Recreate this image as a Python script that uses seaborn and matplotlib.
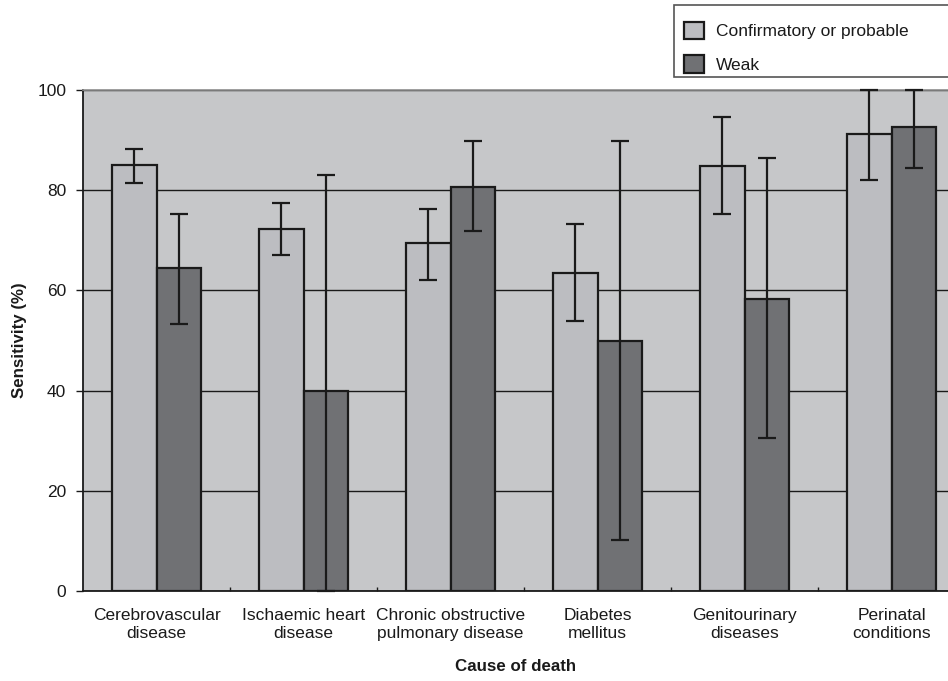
import matplotlib
matplotlib.use('Agg')
import matplotlib.pyplot as plt
import numpy as np
import pandas as pd
import seaborn as sns
from matplotlib.ticker import FixedLocator

categories = ['Cerebrovascular\ndisease', 'Ischaemic heart\ndisease', 'Chronic obstructive\npulmonary disease',
              'Diabetes\nmellitus', 'Genitourinary\ndiseases', 'Perinatal\nconditions']
series = ['Confirmatory or probable', 'Weak']
conf_vals = [85.0, 72.3, 69.4, 63.5, 84.9, 91.3]
conf_low = [81.5, 67.0, 62.1, 53.9, 75.2, 82.0]
conf_high = [88.2, 77.5, 76.2, 73.3, 94.7, 100.0]
weak_vals = [64.5, 40.0, 80.6, 50.0, 58.3, 92.7]
weak_low = [53.3, 0.0, 71.9, 10.2, 30.5, 84.5]
weak_high = [75.2, 83.0, 89.8, 89.8, 86.4, 100.0]

colors = {'Confirmatory or probable': '#bcbdc1', 'Weak': '#707174'}

df = pd.DataFrame({
    'cause': categories * 2,
    'series': [series[0]] * len(categories) + [series[1]] * len(categories),
    'value': conf_vals + weak_vals,
})

sns.set_theme(style='white')
plt.rcParams['font.family'] = ['Liberation Sans', 'DejaVu Sans']

fig = plt.figure(figsize=(9.48, 6.81), dpi=100)
ax = fig.add_axes([83 / 948, 1 - 591 / 681, 882 / 948, 501 / 681])
ax.set_facecolor('#c6c7c9')

sns.barplot(data=df, x='cause', y='value', hue='series', palette=colors, width=0.6, gap=0,
            edgecolor='#1a1a1a', linewidth=1.6, saturation=1, ax=ax, legend=False, errorbar=None)

lows = [conf_low, weak_low]
highs = [conf_high, weak_high]
vals = [conf_vals, weak_vals]
bar_containers = list(ax.containers)
for k, cont in enumerate(bar_containers):
    xs = [p.get_x() + p.get_width() / 2 for p in cont.patches]
    v = np.array(vals[k])
    yerr = [v - np.array(lows[k]), np.array(highs[k]) - v]
    ax.errorbar(xs, v, yerr=yerr, fmt='none', ecolor='#1a1a1a', elinewidth=1.6, capsize=6.5, capthick=1.6,
                zorder=5, clip_on=False)

ax.set_xlim(-0.5, 5.5)
ax.set_ylim(0, 100)
ax.set_yticks([0, 20, 40, 60, 80, 100])
ax.yaxis.grid(True, color='#1a1a1a', linewidth=1.0)
ax.set_axisbelow(True)

ax.xaxis.set_minor_locator(FixedLocator(np.arange(0.5, 5.5, 1.0)))
ax.tick_params(axis='x', which='major', length=0, pad=12, labelsize=12.5, colors='#1a1a1a')
ax.tick_params(axis='x', which='minor', direction='in', length=3, width=1, color='#1a1a1a', bottom=True)
ax.tick_params(axis='y', which='major', direction='out', length=5, width=1, color='#1a1a1a', left=True,
               labelsize=12.5, pad=7, labelcolor='#1a1a1a')
for lbl in ax.get_xticklabels():
    lbl.set_linespacing(1.3)

for side in ['left', 'bottom']:
    ax.spines[side].set_color('#1a1a1a')
    ax.spines[side].set_linewidth(1.3)
ax.spines['top'].set_color('#8e8e8e')
ax.spines['top'].set_linewidth(1.2)
ax.spines['right'].set_visible(False)

ax.set_xlabel('Cause of death', fontsize=12.2, fontweight='bold', color='#1a1a1a')
ax.xaxis.set_label_coords(0.49, -0.136)
ax.set_ylabel('Sensitivity (%)', fontsize=12.2, fontweight='bold', color='#1a1a1a')
ax.yaxis.set_label_coords(-0.0635, 0.5)

# legend box drawn separately so the entries can sit lower than a symmetric frame allows
box = plt.Rectangle((674 / 948, 1 - 77 / 681), 300 / 948, 72 / 681, transform=fig.transFigure,
                    facecolor='white', edgecolor='#555555', linewidth=1.2, zorder=0)
fig.patches.append(box)

handles = [plt.Rectangle((0, 0), 1, 1, facecolor=colors[s], edgecolor='#1a1a1a', linewidth=1.6) for s in series]
leg = fig.legend(handles, series, loc='upper left', bbox_to_anchor=(684 / 948, 1 - 22 / 681),
                 fontsize=12.5, handlelength=1.15, handleheight=1.15, handletextpad=0.7,
                 labelspacing=0.92, borderpad=0, borderaxespad=0, frameon=False)
for t in leg.get_texts():
    t.set_color('#1a1a1a')

fig.savefig('out.png', dpi=100)
